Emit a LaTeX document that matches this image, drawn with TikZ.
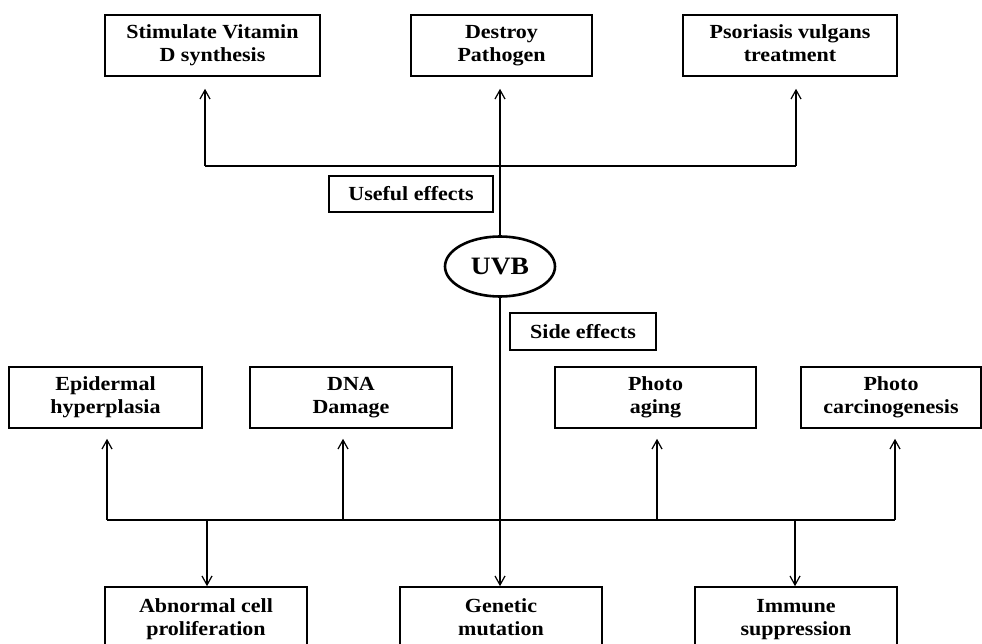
\documentclass[tikz,border=0pt]{standalone}
\usepackage{fontspec}
\setmainfont{Liberation Serif}[FakeStretch=1.1]
\usetikzlibrary{arrows.meta,shapes.geometric}
\newcommand{\boxstrut}{\rule[-5pt]{0pt}{19pt}}
\tikzset{
    effectbox/.style={draw, line width=1.6pt, align=center, inner sep=0pt,
            font=\bfseries\fontsize{20}{23}\selectfont,
            execute at begin node=\boxstrut, execute at end node=\boxstrut},
    labelbox/.style={draw, line width=1.3pt, inner sep=0pt,
            font=\bfseries\fontsize{20}{23}\selectfont},
    bus/.style={line width=1.8pt},
    link/.style={line width=1.2pt, -{Straight Barb[length=9pt,width=10pt]}},
}

\begin{document}
\begin{tikzpicture}[x=1pt, y=-1pt]
        \useasboundingbox (0,0) rectangle (982,644);
        %useful effects row
        \node[effectbox, minimum width=215, minimum height=61] (vitd) at (212.5,45.5) {Stimulate Vitamin\\D synthesis};
        \node[effectbox, minimum width=181, minimum height=61] (pathogen) at (501.5,45.5) {Destroy\\Pathogen};
        \node[effectbox, minimum width=214, minimum height=61] (psoriasis) at (790,45.5) {Psoriasis vulgans\\treatment};
        \node[labelbox, minimum width=164, minimum height=36] (useful) at (411,194) {Useful effects};
        %uvb in the middle
        \node[draw, ellipse, line width=2.6pt, inner sep=0pt, minimum width=110, minimum height=60,
            font=\bfseries\fontsize{25}{28}\selectfont] (uvb) at (500,266.5) {UVB};
        \node[labelbox, minimum width=146, minimum height=37] (side) at (583,331.5) {Side effects};
        %side effects rows
        \node[effectbox, minimum width=193, minimum height=61] (epidermal) at (105.5,397.5) {Epidermal\\hyperplasia};
        \node[effectbox, minimum width=202, minimum height=61] (dna) at (351,397.5) {DNA\\Damage};
        \node[effectbox, minimum width=201, minimum height=61] (aging) at (655.5,397.5) {Photo\\aging};
        \node[effectbox, minimum width=180, minimum height=61] (carcino) at (891,397.5) {Photo\\carcinogenesis};
        \node[effectbox, minimum width=202, minimum height=66] (abnormal) at (206,620) {Abnormal cell\\proliferation};
        \node[effectbox, minimum width=202, minimum height=66] (genetic) at (501,620) {Genetic\\mutation};
        \node[effectbox, minimum width=202, minimum height=66] (immune) at (796,620) {Immune\\suppression};
        %branch points
        \coordinate (ub1) at (205,166);
        \coordinate (ub3) at (796,166);
        \coordinate (lb1) at (107,520);
        \coordinate (lb2) at (343,520);
        \coordinate (lb3) at (657,520);
        \coordinate (lb4) at (895,520);
        \coordinate (ld1) at (207,520);
        \coordinate (ld3) at (795,520);
        %draw upper branches
        \draw[bus] (ub1) -- (ub3);
        \draw[link, shorten >=12pt] (ub1) -- (ub1 |- vitd.south);
        \draw[link, shorten >=12pt] (ub3) -- (ub3 |- psoriasis.south);
        \draw[link, shorten >=12pt] (uvb.north) -- (uvb.north |- pathogen.south);
        %draw lower branches
        \draw[bus] (lb1) -- (lb4);
        \draw[link] (uvb.south) -- (uvb.south |- genetic.north);
        \draw[link, shorten >=10pt] (lb1) -- (lb1 |- epidermal.south);
        \draw[link, shorten >=10pt] (lb2) -- (lb2 |- dna.south);
        \draw[link, shorten >=10pt] (lb3) -- (lb3 |- aging.south);
        \draw[link, shorten >=10pt] (lb4) -- (lb4 |- carcino.south);
        \draw[link] (ld1) -- (ld1 |- abnormal.north);
        \draw[link] (ld3) -- (ld3 |- immune.north);
    \end{tikzpicture}
\end{document}
